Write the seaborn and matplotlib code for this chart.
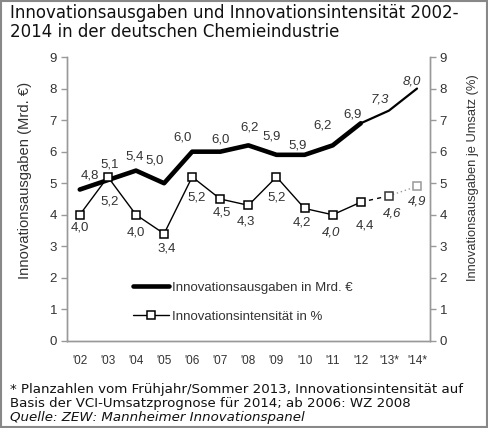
import matplotlib
matplotlib.use("Agg")
import matplotlib.pyplot as plt
from matplotlib.lines import Line2D
from matplotlib.patches import Rectangle
import pandas as pd
import seaborn as sns

# Daten
jahre = ["'02", "'03", "'04", "'05", "'06", "'07", "'08", "'09", "'10", "'11", "'12", "'13*", "'14*"]
ausgaben = [4.8, 5.1, 5.4, 5.0, 6.0, 6.0, 6.2, 5.9, 5.9, 6.2, 6.9, 7.3, 8.0]
intensitaet = [4.0, 5.2, 4.0, 3.4, 5.2, 4.5, 4.3, 5.2, 4.2, 4.0, 4.4, 4.6, 4.9]

df = pd.DataFrame({"jahr": jahre, "ausgaben": ausgaben, "intensitaet": intensitaet})
df["pos"] = range(len(df))

# Beschriftungs-Versatz (Punkte)
off_ausg = [(7, 10), (1.5, 11), (-1, 10), (-6.5, 16), (-7, 10), (0, 8.5), (1, 13),
            (-3.5, 13), (-5, 7), (-7, 14), (-6, 6.5), (-6.5, 8), (-3.5, 5)]
off_int = [(0, -9.5), (1.5, -18), (0, -13), (2, -11), (3.5, -15), (1, -9.5), (-2, -12),
           (0, -14.5), (-2, -10), (-1, -12.5), (3, -16.5), (2, -13), (0, -11)]
kursiv_ausg = {11, 12}
kursiv_int = {9, 11, 12}

sns.set_style("white")
plt.rcParams["font.family"] = ["Liberation Sans", "DejaVu Sans"]

TXT = "#333333"
GRAU = "#999999"

fig = plt.figure(figsize=(4.88, 4.28), dpi=100)
ax = fig.add_axes([0.137, 0.2033, 0.744, 0.6635])
ax2 = ax.twinx()

# Innovationsausgaben (linke Achse)
ist = df[df["pos"] <= 10]
plan = df[df["pos"] >= 10]
sns.lineplot(data=ist, x="pos", y="ausgaben", ax=ax, color="black", lw=3.3, legend=False)
sns.lineplot(data=plan, x="pos", y="ausgaben", ax=ax, color="black", lw=1.6, legend=False)

# Innovationsintensitaet (rechte Achse)
sns.lineplot(data=ist, x="pos", y="intensitaet", ax=ax2, color="black", lw=1.0,
             marker="s", markersize=6, markerfacecolor="white", markeredgecolor="black",
             markeredgewidth=1.1, legend=False, zorder=3)
sns.lineplot(data=df[(df["pos"] >= 10) & (df["pos"] <= 11)], x="pos", y="intensitaet", ax=ax2,
             color="black", lw=1.0, linestyle=(0, (3, 3)), legend=False, zorder=2)
sns.lineplot(data=df[df["pos"] >= 11], x="pos", y="intensitaet", ax=ax2,
             color="#999999", lw=1.0, linestyle=(0, (1, 2)), legend=False, zorder=2)
ax2.plot(df["pos"][11], df["intensitaet"][11], "s", ms=6, mfc="white", mec="#333333", mew=1.1, zorder=4)
ax2.plot(df["pos"][12], df["intensitaet"][12], "s", ms=6, mfc="white", mec="#999999", mew=1.1, zorder=4)

# Werte beschriften
for i, (p, v) in enumerate(zip(df["pos"], df["ausgaben"])):
    ax.annotate(f"{v:.1f}".replace(".", ","), (p, v), xytext=off_ausg[i], textcoords="offset points",
                ha="center", va="center", fontsize=9.5, color=TXT,
                style="italic" if i in kursiv_ausg else "normal")
for i, (p, v) in enumerate(zip(df["pos"], df["intensitaet"])):
    ax2.annotate(f"{v:.1f}".replace(".", ","), (p, v), xytext=off_int[i], textcoords="offset points",
                 ha="center", va="center", fontsize=9.5, color=TXT,
                 style="italic" if i in kursiv_int else "normal")

for a in (ax, ax2):
    a.set_xlim(-0.46, 12.46)
    a.set_ylim(0, 9)
    a.set_yticks(range(10))
    a.set_xlabel("")
    for s in a.spines.values():
        s.set_color(GRAU)
        s.set_linewidth(1.0)
    a.spines["top"].set_visible(False)
    a.tick_params(axis="y", length=4, width=1, color=GRAU, labelsize=9.5, labelcolor=TXT, pad=3)

ax.set_xticks(df["pos"])
ax.set_xticklabels(df["jahr"], fontsize=8.5, color=TXT)
ax.tick_params(axis="x", length=0, pad=10)
ax.set_ylabel("Innovationsausgaben (Mrd. €)", fontsize=10.6, color=TXT)
ax.yaxis.set_label_coords(-0.096, 0.567)
ax2.set_ylabel("Innovationsausgaben je Umsatz (%)", fontsize=9.3, color=TXT)
ax2.yaxis.set_label_coords(1.102, 0.576)
ax.tick_params(axis="y", left=True)
ax2.tick_params(axis="y", right=True)

# Legende
handles = [
    Line2D([], [], color="black", lw=3.3),
    Line2D([], [], color="black", lw=1.0, marker="s", ms=6, mfc="white", mec="black", mew=1.1),
]
leg = ax2.legend(handles, ["Innovationsausgaben in Mrd. €", "Innovationsintensität in %"],
                 loc="upper left", bbox_to_anchor=(0.165, 0.232), frameon=False, fontsize=9.5,
                 handlelength=2.7, handletextpad=0.2, labelspacing=1.25, borderpad=0)
for t in leg.get_texts():
    t.set_color(TXT)

# Titel und Fussnote
H = 428
def zeile(y_px, text, size, style="normal"):
    fig.text(0.021, 1 - y_px / H, text, fontsize=size, family="DejaVu Sans", color="#111111",
             va="baseline", style=style)

zeile(18, "Innovationsausgaben und Innovationsintensität 2002-", 12)
zeile(37, "2014 in der deutschen Chemieindustrie", 12)
zeile(393, "* Planzahlen vom Frühjahr/Sommer 2013, Innovationsintensität auf", 9.6)
zeile(407.5, "Basis der VCI-Umsatzprognose für 2014; ab 2006: WZ 2008", 9.6)
zeile(421, "Quelle: ZEW: Mannheimer Innovationspanel", 9.6, style="italic")

fig.patches.append(Rectangle((0.003, 0.003), 0.994, 0.994, transform=fig.transFigure,
                             fill=False, edgecolor="#888888", lw=1.5))

fig.savefig("out.png", dpi=100)
